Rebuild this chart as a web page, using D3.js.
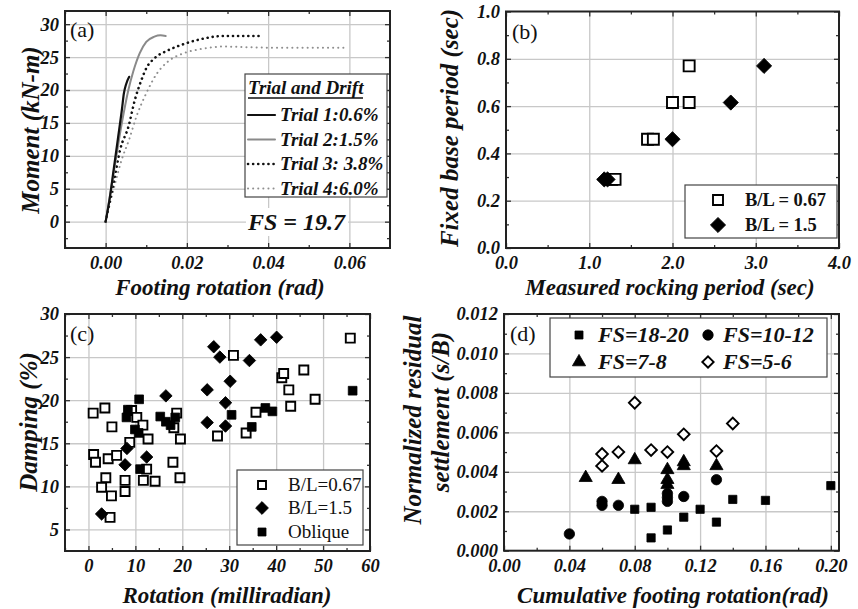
<!DOCTYPE html>
<html>
<head>
<meta charset="utf-8">
<script src="https://cdn.jsdelivr.net/npm/d3@7"></script>
<style>
  body { margin: 0; background: #fff; }
  text { font-family: "Liberation Serif", "Times New Roman", serif; fill: #111; }
  .grid line { stroke: #c8c8c8; stroke-width: 1.3; }
  .tick-in line { stroke: #333; stroke-width: 1.3; }
  .lab text { font-size: 18.5px; font-weight: bold; font-style: italic; fill: #111; }
  .title { font-size: 23px; font-weight: bold; font-style: italic; }
  .ytitle { font-size: 25px; font-weight: bold; font-style: italic; }
  .tag { font-size: 22px; }
  .leg { font-weight: bold; font-style: italic; }
</style>
</head>
<body>
<div id="chart"></div>
<script>
// (a) moment vs footing rotation, one curve per trial: [rotation, moment]
var trial1 = [[0,0],[0.001,3.5],[0.002,8],[0.003,12.5],[0.004,17],[0.0045,19.5],[0.005,20.8],[0.0058,22]];
var trial2 = [[0,0],[0.002,7.5],[0.004,15],[0.0056,20],[0.0068,22.8],[0.0084,25.6],[0.010,27.3],[0.012,28.1],[0.0135,28.3],[0.0148,28.2]];
var trial3 = [[0,0],[0.002,6],[0.0036,11],[0.0056,14.4],[0.0072,18.5],[0.0088,21.5],[0.010,23.3],[0.012,24.8],[0.0153,26],[0.0193,27],[0.0233,27.7],[0.029,28.2],[0.038,28.2]];
var trial4 = [[0,0],[0.002,5],[0.004,9.5],[0.0058,12.5],[0.0076,16],[0.010,19.5],[0.0124,22.3],[0.0153,24.3],[0.0193,25.6],[0.0233,26.2],[0.029,26.6],[0.035,26.5],[0.045,26.4],[0.059,26.4]];
var trialNames = ["Trial 1:0.6%", "Trial 2:1.5%", "Trial 3: 3.8%", "Trial 4:6.0%"];

// (b) fixed base period vs measured rocking period: [rocking, fixed]
var bSquare = [[2.2,0.77],[2.0,0.615],[2.2,0.615],[1.7,0.46],[1.77,0.46],[1.27,0.29],[1.31,0.29]];
var bDiamond = [[1.18,0.29],[1.22,0.29],[2.0,0.46],[2.7,0.615],[3.1,0.77]];

// (c) damping vs rotation: [milliradian, %]
var cSquare = [[1.0,18.5],[3.5,19.1],[5.0,16.9],[1.1,13.7],[1.5,12.8],[4.2,13.2],[6.0,13.6],[3.7,11.0],[2.8,9.9],[4.9,8.9],[4.6,6.4],[7.8,10.7],[7.8,9.4],[8.8,15.1],[9.2,18.8],[10.3,18.0],[11.6,17.1],[12.7,15.5],[12.4,12.0],[11.7,10.7],[14.2,10.6],[18.0,12.8],[19.5,11.0],[19.6,15.5],[18.8,18.5],[18.2,16.8],[27.5,15.85],[30.9,25.2],[33.6,16.2],[35.7,18.6],[41.2,22.6],[41.6,23.1],[42.7,21.2],[43.1,19.3],[45.9,23.5],[48.3,20.1],[55.8,27.2]];
var cDiamond = [[2.8,6.8],[7.8,12.5],[8.2,14.4],[12.4,13.4],[16.5,20.5],[25.3,21.2],[25.3,17.4],[26.7,26.2],[28.0,25.0],[30.2,22.2],[29.2,19.7],[29.2,17.0],[34.3,24.6],[36.7,27.0],[40.1,27.3]];
var cOblique = [[8.4,18.9],[8.1,18.0],[10.8,20.1],[9.9,16.6],[10.7,16.2],[11.0,12.0],[15.3,18.1],[16.5,17.5],[17.5,17.1],[18.5,18.0],[30.5,18.3],[34.8,16.9],[37.7,19.1],[39.2,18.7],[56.3,21.1]];

// (d) normalized residual settlement vs cumulative rotation: [rad, s/B]
var dFS1820 = [[0.08,0.0021],[0.09,0.00065],[0.09,0.0022],[0.10,0.00105],[0.11,0.0017],[0.12,0.0021],[0.13,0.00145],[0.14,0.0026],[0.16,0.00255],[0.20,0.0033]];
var dFS1012 = [[0.04,0.00085],[0.06,0.0025],[0.06,0.0023],[0.07,0.0023],[0.10,0.0029],[0.10,0.0027],[0.10,0.0025],[0.11,0.00275],[0.13,0.0036]];
var dFS78 = [[0.05,0.0037],[0.07,0.0036],[0.08,0.0046],[0.10,0.0041],[0.10,0.0036],[0.10,0.00335],[0.11,0.0045],[0.11,0.0043],[0.13,0.0043]];
var dFS56 = [[0.06,0.0049],[0.06,0.0043],[0.07,0.005],[0.08,0.0075],[0.09,0.0051],[0.10,0.005],[0.11,0.0059],[0.13,0.00505],[0.14,0.00645]];

// tick labels
var aXTicks = [0, 0.02, 0.04, 0.06], aYTicks = [0, 5, 10, 15, 20, 25, 30];
var bXTicks = [0, 1, 2, 3, 4], bYTicks = [0, 0.2, 0.4, 0.6, 0.8, 1.0];
var cXTicks = [0, 10, 20, 30, 40, 50, 60], cYTicks = [5, 10, 15, 20, 25, 30];
var dXTicks = [0, 0.04, 0.08, 0.12, 0.16, 0.20], dYTicks = [0, 0.002, 0.004, 0.006, 0.008, 0.010, 0.012];

var svg = d3.select("#chart")
  .append("svg")
    .attr("width", 858)
    .attr("height", 609);

function noDomain(g) { g.select(".domain").remove(); }

// grid, inward ticks on four sides, tick labels and frame
function framePanel(x, y, o) {
  var L = x.range()[0], R = x.range()[1], B = y.range()[0], T = y.range()[1];
  var g = svg.append("g");
  g.append("g").attr("class", "grid").attr("transform", `translate(0,${B})`)
    .call(d3.axisBottom(x).tickValues(o.xGrid).tickSize(-(B - T)).tickFormat("")).call(noDomain);
  g.append("g").attr("class", "grid").attr("transform", `translate(${L},0)`)
    .call(d3.axisLeft(y).tickValues(o.yGrid).tickSize(-(R - L)).tickFormat("")).call(noDomain);

  [[o.xMajor, 5], [o.xMinor, 3]].forEach(function(t) {
    g.append("g").attr("class", "tick-in").attr("transform", `translate(0,${B})`)
      .call(d3.axisBottom(x).tickValues(t[0]).tickSize(-t[1]).tickFormat("")).call(noDomain);
    g.append("g").attr("class", "tick-in").attr("transform", `translate(0,${T})`)
      .call(d3.axisTop(x).tickValues(t[0]).tickSize(-t[1]).tickFormat("")).call(noDomain);
  });
  [[o.yMajor, 5], [o.yMinor, 3]].forEach(function(t) {
    g.append("g").attr("class", "tick-in").attr("transform", `translate(${L},0)`)
      .call(d3.axisLeft(y).tickValues(t[0]).tickSize(-t[1]).tickFormat("")).call(noDomain);
    g.append("g").attr("class", "tick-in").attr("transform", `translate(${R},0)`)
      .call(d3.axisRight(y).tickValues(t[0]).tickSize(-t[1]).tickFormat("")).call(noDomain);
  });

  g.append("g").attr("class", "lab").attr("transform", `translate(0,${B})`)
    .call(d3.axisBottom(x).tickValues(o.xTicks).tickSize(0).tickPadding(8).tickFormat(o.xFmt)).call(noDomain);
  g.append("g").attr("class", "lab").attr("transform", `translate(${L},0)`)
    .call(d3.axisLeft(y).tickValues(o.yTicks).tickSize(0).tickPadding(6).tickFormat(o.yFmt)).call(noDomain);

  g.append("rect")
    .attr("x", L).attr("y", T).attr("width", R - L).attr("height", B - T)
    .attr("fill", "none").attr("stroke", "#222").attr("stroke-width", 2);
  return g;
}

function steps(a, b, s) { return d3.range(a, b + s / 2, s); }

function marks(data, x, y, shape, size, filled, rot) {
  svg.append("g").selectAll("path")
    .data(data)
    .enter()
    .append("path")
      .attr("d", d3.symbol().type(shape).size(size))
      .attr("transform", d => `translate(${x(d[0])},${y(d[1])}) rotate(${rot || 0})`)
      .attr("fill", filled ? "#000" : "#fff")
      .attr("stroke", "#000")
      .attr("stroke-width", filled ? 0.8 : 1.9);
}

function legendMark(x, y, shape, size, filled, rot) {
  marks([[x, y]], d => d, d => d, shape, size, filled, rot);
}

function yTitle(txt, cx, cy) {
  svg.append("text").attr("class", "ytitle")
    .attr("transform", `translate(${cx},${cy}) rotate(-90)`)
    .attr("text-anchor", "middle").attr("dy", "0.35em").text(txt);
}
function xTitle(txt, cx, cy) {
  svg.append("text").attr("class", "title")
    .attr("x", cx).attr("y", cy).attr("text-anchor", "middle").attr("dy", "0.35em").text(txt);
}

// ---------- (a) ----------
var xa = d3.scaleLinear().domain([-0.01, 0.07]).range([65, 390]);
var ya = d3.scaleLinear().domain([-4, 32]).range([248, 11]);
framePanel(xa, ya, {
  xGrid: aXTicks, yGrid: aYTicks, xMajor: aXTicks, yMajor: aYTicks,
  xMinor: [-0.01, 0.01, 0.03, 0.05], yMinor: steps(-2.5, 30, 5),
  xTicks: aXTicks, yTicks: aYTicks, xFmt: d3.format(".2f"), yFmt: d3.format("d")
});
var lineA = d3.line().x(d => xa(d[0])).y(d => ya(d[1])).curve(d3.curveMonotoneX);
var trialStyle = [
  {stroke: "#111", width: 2.2, dash: null},
  {stroke: "#8a8a8a", width: 2, dash: null},
  {stroke: "#111", width: 2.6, dash: "0.1,5"},
  {stroke: "#8f8f8f", width: 2, dash: "0.1,5"}
];
[trial4, trial3, trial2, trial1].forEach(function(t, i) {
  var s = trialStyle[3 - i];
  svg.append("path").datum(t)
    .attr("d", lineA)
    .attr("fill", "none")
    .attr("stroke", s.stroke)
    .attr("stroke-width", s.width)
    .attr("stroke-linecap", "round")
    .attr("stroke-dasharray", s.dash);
});
svg.append("text").attr("class", "tag").attr("x", 70).attr("y", 37).text("(a)");

// legend (a)
var lga = svg.append("g");
lga.append("rect").attr("x", 245).attr("y", 74).attr("width", 142).attr("height", 123)
  .attr("fill", "#fff").attr("stroke", "#444").attr("stroke-width", 1.2);
lga.append("text").attr("class", "leg").attr("x", 248).attr("y", 94)
  .style("font-size", "19px").text("Trial and Drift");
lga.append("line").attr("x1", 248).attr("x2", 363).attr("y1", 98).attr("y2", 98)
  .attr("stroke", "#111").attr("stroke-width", 1.4);
trialNames.forEach(function(n, i) {
  var yy = 115 + i * 24.5, s = trialStyle[i];
  lga.append("line").attr("x1", 248).attr("x2", 275).attr("y1", yy).attr("y2", yy)
    .attr("stroke", s.stroke).attr("stroke-width", s.width)
    .attr("stroke-linecap", "round").attr("stroke-dasharray", s.dash);
  lga.append("text").attr("class", "leg").attr("x", 280).attr("y", yy + 6)
    .style("font-size", "19px").text(n);
});
svg.append("rect").attr("x", 246).attr("y", 208).attr("width", 102).attr("height", 28).attr("fill", "#fff");
svg.append("text").attr("class", "leg").style("font-size", "24px")
  .attr("x", 248).attr("y", 230).text("FS = 19.7");

yTitle("Moment (kN-m)", 30, 130);
xTitle("Footing rotation (rad)", 220, 287);

// ---------- (b) ----------
var xb = d3.scaleLinear().domain([0, 4]).range([506, 839]);
var yb = d3.scaleLinear().domain([0, 1]).range([248, 11.5]);
framePanel(xb, yb, {
  xGrid: [1, 2, 3], yGrid: [0.2, 0.4, 0.6, 0.8], xMajor: bXTicks, yMajor: bYTicks,
  xMinor: [0.5, 1.5, 2.5, 3.5], yMinor: steps(0.1, 0.9, 0.2),
  xTicks: bXTicks, yTicks: bYTicks, xFmt: d3.format(".1f"), yFmt: d3.format(".1f")
});
marks(bSquare, xb, yb, d3.symbolSquare, 121, false);
marks(bDiamond, xb, yb, d3.symbolSquare, 115, true, 45);
svg.append("text").attr("class", "tag").attr("x", 512).attr("y", 39).text("(b)");

var lgb = svg.append("g");
lgb.append("rect").attr("x", 685).attr("y", 185).attr("width", 152).attr("height", 53)
  .attr("fill", "#fff").attr("stroke", "#444").attr("stroke-width", 1.2);
[["B/L = 0.67", 200], ["B/L = 1.5", 225]].forEach(function(e) {
  lgb.append("text").attr("x", 745).attr("y", e[1] + 6)
    .style("font-size", "18.5px").style("font-weight", "bold").text(e[0]);
});
legendMark(718, 200, d3.symbolSquare, 100, false);
legendMark(718, 225, d3.symbolSquare, 115, true, 45);

yTitle("Fixed base period (sec)", 449, 128);
xTitle("Measured rocking period (sec)", 670, 287);

// ---------- (c) ----------
var xc = d3.scaleLinear().domain([-5, 60]).range([65, 370]);
var yc = d3.scaleLinear().domain([2.5, 30]).range([551, 314]);
framePanel(xc, yc, {
  xGrid: [0, 10, 20, 30, 40, 50], yGrid: [5, 10, 15, 20, 25], xMajor: cXTicks, yMajor: cYTicks,
  xMinor: steps(-5, 55, 10), yMinor: steps(7.5, 27.5, 5),
  xTicks: cXTicks, yTicks: cYTicks, xFmt: d3.format("d"), yFmt: d3.format("d")
});
marks(cSquare, xc, yc, d3.symbolSquare, 81, false);
marks(cDiamond, xc, yc, d3.symbolSquare, 78, true, 45);
marks(cOblique, xc, yc, d3.symbolSquare, 76, true);
svg.append("text").attr("class", "tag").attr("x", 70).attr("y", 341).text("(c)");

var lgc = svg.append("g");
lgc.append("rect").attr("x", 237).attr("y", 470).attr("width", 126).attr("height", 75)
  .attr("fill", "#fff").attr("stroke", "#444").attr("stroke-width", 1.2);
[["B/L=0.67", 485], ["B/L=1.5", 508], ["Oblique", 532]].forEach(function(e) {
  lgc.append("text").attr("x", 288).attr("y", e[1] + 6).style("font-size", "19px").text(e[0]);
});
legendMark(262, 485, d3.symbolSquare, 64, false);
legendMark(262, 508, d3.symbolSquare, 82, true, 45);
legendMark(262, 532, d3.symbolSquare, 64, true);

yTitle("Damping (%)", 28, 422);
xTitle("Rotation (milliradian)", 227, 595);

// ---------- (d) ----------
var xd = d3.scaleLinear().domain([0, 0.205]).range([504, 839]);
var yd = d3.scaleLinear().domain([0, 0.012]).range([550.7, 314]);
framePanel(xd, yd, {
  xGrid: [0.04, 0.08, 0.12, 0.16, 0.20], yGrid: [0.002, 0.004, 0.006, 0.008, 0.010],
  xMajor: dXTicks, yMajor: dYTicks,
  xMinor: steps(0.02, 0.18, 0.04), yMinor: steps(0.001, 0.011, 0.002),
  xTicks: dXTicks, yTicks: dYTicks, xFmt: d3.format(".2f"), yFmt: d3.format(".3f")
});
marks(dFS1820, xd, yd, d3.symbolSquare, 68, true);
marks(dFS1012, xd, yd, d3.symbolCircle, 85, true);
marks(dFS78, xd, yd, d3.symbolTriangle, 75, true);
marks(dFS56, xd, yd, d3.symbolSquare, 68, false, 45);
svg.append("text").attr("class", "tag").attr("x", 510).attr("y", 341).text("(d)");

var lgd = svg.append("g");
lgd.append("rect").attr("x", 550).attr("y", 318).attr("width", 277).attr("height", 59)
  .attr("fill", "#fff").attr("stroke", "#444").attr("stroke-width", 1.2);
[["FS=18-20", 598, 335], ["FS=10-12", 723, 335], ["FS=7-8", 598, 362], ["FS=5-6", 723, 362]].forEach(function(e) {
  lgd.append("text").attr("class", "leg").attr("x", e[1]).attr("y", e[2] + 7)
    .style("font-size", "22px").text(e[0]);
});
legendMark(579, 335, d3.symbolSquare, 64, true);
legendMark(708, 335, d3.symbolCircle, 85, true);
legendMark(579, 362, d3.symbolTriangle, 75, true);
legendMark(708, 362, d3.symbolSquare, 64, false, 45);

yTitle("Normalized residual", 412, 420);
yTitle("settlement (s/B)", 440, 412);
xTitle("Cumulative footing rotation(rad)", 673, 595);
</script>
</body>
</html>
